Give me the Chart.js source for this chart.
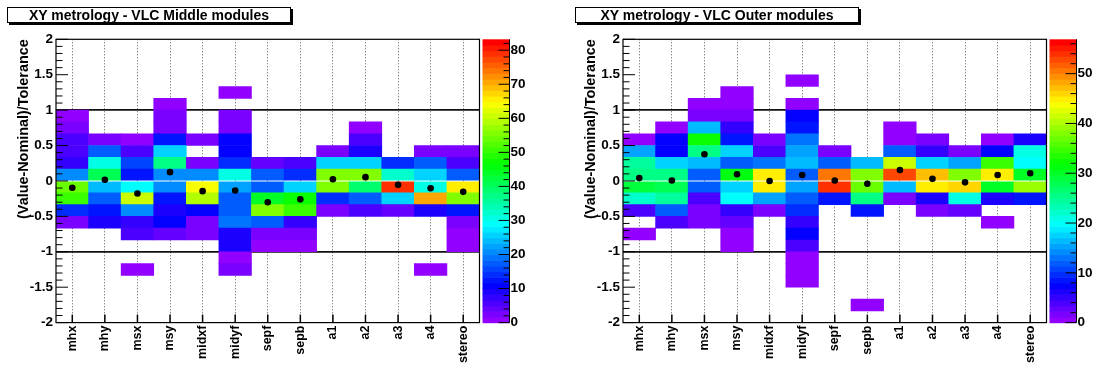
<!DOCTYPE html>
<html><head><meta charset="utf-8">
<script src="https://cdn.jsdelivr.net/npm/chart.js@4.4.0/dist/chart.umd.min.js"></script>
<style>
html,body{margin:0;padding:0;background:#fff;width:1096px;height:366px;overflow:hidden;position:relative;}
canvas{position:absolute;top:0;}
.tbox{position:absolute;top:7px;height:16px;width:284px;box-sizing:border-box;border:1px solid #000;box-shadow:2px 2px 0 #000;background:#fff;font:bold 14px "Liberation Sans",Arial,sans-serif;text-align:center;line-height:14px;color:#000;}
</style></head><body>
<canvas id="c1" width="567" height="366" style="left:0px"></canvas>
<canvas id="c2" width="529" height="366" style="left:567px"></canvas>
<div class="tbox" style="left:7px">XY metrology - VLC Middle modules</div>
<div class="tbox" style="left:575px">XY metrology - VLC Outer modules</div>
<script>
// ---------------- DATA ----------------
const categories = ['mhx','mhy','msx','msy','midxf','midyf','sepf','sepb','a1','a2','a3','a4','stereo'];
// y bins: 24 bins of width 1/6 from -2 to 2; each count array lists bins bottom (-2) to top (+2)
const yMin = -2, yMax = 2, yBins = 24;

// Middle modules: entries per bin
const mid_mhx    = [0,0,0,0,0,0,0,0, 2,14,50,54, 20,7,6,6, 2,1,0,0, 0,0,0,0];
const mid_mhy    = [0,0,0,0,0,0,0,0, 9,13,18,24, 41,31,18,3, 0,0,0,0, 0,0,0,0];
const mid_msx    = [0,0,0,0,1,0,0,6, 7,21,61,29, 13,16,6,1, 0,0,0,0, 0,0,0,0];
const mid_msy    = [0,0,0,0,0,0,0,4, 11,9,12,20, 20,37,26,13, 3,3,1,0, 0,0,0,0];
const mid_midxf  = [0,0,0,0,0,0,0,2, 2,11,59,64, 20,3,0,2, 0,0,0,0, 0,0,0,0];
const mid_midyf  = [0,0,0,0,3,1,9,9, 19,18,17,23, 31,14,11,11, 3,3,0,1, 0,0,0,0];
const mid_sepf   = [0,0,0,0,0,0,1,3, 18,56,44,17, 17,4,0,0, 0,0,0,0, 0,0,0,0];
const mid_sepb   = [0,0,0,0,0,0,1,2, 7,50,47,26, 14,6,0,0, 0,0,0,0, 0,0,0,0];
const mid_a1     = [0,0,0,0,0,0,0,0, 0,3,14,56, 56,26,2,0, 0,0,0,0, 0,0,0,0];
const mid_a2     = [0,0,0,0,0,0,0,0, 0,5,18,39, 56,25,9,6, 1,0,0,0, 0,0,0,0];
const mid_a3     = [0,0,0,0,0,0,0,0, 0,4,26,79, 32,14,0,0, 0,0,0,0, 0,0,0,0];
const mid_a4     = [0,0,0,0,1,0,0,0, 0,9,70,31, 26,17,2,0, 0,0,0,0, 0,0,0,0];
const mid_stereo = [0,0,0,0,0,0,1,1, 3,13,56,66, 17,5,3,0, 0,0,0,0, 0,0,0,0];
const midMeans = [-0.097, 0.016, -0.177, 0.124, -0.144, -0.135, -0.30, -0.26, 0.025, 0.054, -0.055, -0.104, -0.154];
const midZMax = 83.2;

// Outer modules: entries per bin
const out_mhx    = [0,0,0,0,0,0,0,1, 0,4,22,29, 26,24,15,1, 0,0,0,0, 0,0,0,0];
const out_mhy    = [0,0,0,0,0,0,0,0, 4,12,24,28, 26,18,7,7, 1,0,0,0, 0,0,0,0];
const out_msx    = [0,0,0,0,0,0,0,0, 2,2,4,12, 12,16,26,32, 16,2,1,0, 0,0,0,0];
const out_msy    = [0,0,0,0,0,0,1,1, 3,5,20,18, 31,12,18,8, 5,2,1,1, 0,0,0,0];
const out_midxf  = [0,0,0,0,0,0,0,0, 0,2,15,45, 45,13,4,2, 0,0,0,0, 0,0,0,0];
const out_midyf  = [0,0,0,1,1,1,4,7, 5,10,12,15, 12,16,15,13, 8,7,1,0, 1,0,0,0];
const out_sepf   = [0,0,0,0,0,0,0,0, 0,0,9,54, 51,12,2,0, 0,0,0,0, 0,0,0,0];
const out_sepb   = [0,1,0,0,0,0,0,0, 0,8,26,37, 38,16,0,0, 0,0,0,0, 0,0,0,0];
const out_a1     = [0,0,0,0,0,0,0,0, 0,0,2,16, 53,42,12,1, 1,0,0,0, 0,0,0,0];
const out_a2     = [0,0,0,0,0,0,0,0, 0,2,6,45, 47,18,5,2, 0,0,0,0, 0,0,0,0];
const out_a3     = [0,0,0,0,0,0,0,0, 0,3,21,46, 38,15,2,0, 0,0,0,0, 0,0,0,0];
const out_a4     = [0,0,0,0,0,0,0,0, 1,0,6,30, 45,35,7,1, 0,0,0,0, 0,0,0,0];
const out_stereo = [0,0,0,0,0,0,0,0, 0,0,9,39, 30,20,21,6, 0,0,0,0, 0,0,0,0];
const outMeans = [0.04, 0.007, 0.378, 0.095, 0.0, 0.084, 0.007, -0.04, 0.155, 0.03, -0.02, 0.085, 0.108];
const outZMax = 56.9;

const midCounts = [mid_mhx, mid_mhy, mid_msx, mid_msy, mid_midxf, mid_midyf, mid_sepf, mid_sepb, mid_a1, mid_a2, mid_a3, mid_a4, mid_stereo];
const outCounts = [out_mhx, out_mhy, out_msx, out_msy, out_midxf, out_midyf, out_sepf, out_sepb, out_a1, out_a2, out_a3, out_a4, out_stereo];

// ---------------- STYLE ----------------
const FONT = '"Liberation Sans", Arial, Helvetica, sans-serif';
Chart.defaults.font.family = FONT;
Chart.defaults.color = '#000';
const NPAL = 50;
function palColor(i){ const h = 280 - (i + 1) * (280 / NPAL); return 'hsl(' + h + ',100%,50%)'; }
function cellColor(v, zmax){ let i = Math.floor(v / zmax * NPAL + 0.01); if (i > NPAL - 1) i = NPAL - 1; if (i < 0) i = 0; return palColor(i); }

const rootDecor = {
  id: 'rootDecor',
  afterDraw(chart) {
    const {ctx, chartArea: a, scales: {x, y, z}} = chart;
    ctx.save();
    ctx.strokeStyle = '#000';
    const line = (x1, y1, x2, y2) => { ctx.beginPath(); ctx.moveTo(x1, y1); ctx.lineTo(x2, y2); ctx.stroke(); };
    // y ticks (inside)
    ctx.lineWidth = 1;
    for (let t = -20; t <= 20; t++) {
      const py = y.getPixelForValue(t / 10);
      line(a.left, py, a.left + (t % 5 === 0 ? 12 : 6.5), py);
    }
    // x ticks at bottom
    ctx.lineWidth = 1.5;
    categories.forEach((c, i) => { const px = x.getPixelForValue(i); line(px, a.bottom, px, a.bottom - 8); });
    // frame
    ctx.lineWidth = 1.2;
    ctx.strokeRect(a.left, a.top, a.right - a.left, a.bottom - a.top);
    // colour bar
    const x0 = a.right + 3, x1 = a.right + 30, zmax = z.max;
    for (let j = 0; j < NPAL; j++) {
      const yb = z.getPixelForValue(j * zmax / NPAL), yt = z.getPixelForValue((j + 1) * zmax / NPAL);
      ctx.fillStyle = palColor(j);
      ctx.fillRect(x0, yt, x1 - x0, yb - yt + 0.6);
    }
    ctx.lineWidth = 1;
    line(x1, z.getPixelForValue(0), x1, z.getPixelForValue(zmax));
    for (let v = 0; v <= zmax; v += 2) {
      const py = z.getPixelForValue(v);
      line(x1 - (v % 10 === 0 ? 11 : 6), py, x1, py);
    }
    ctx.restore();
  }
};

function makeChart(id, counts, means, zmax, canvasW) {
  const datasets = [];
  for (let j = 0; j < yBins; j++) {
    const lo = yMin + j * (yMax - yMin) / yBins, hi = yMin + (j + 1) * (yMax - yMin) / yBins;
    datasets.push({
      type: 'bar',
      data: counts.map(col => col[j] > 0 ? [lo, hi] : null),
      backgroundColor: counts.map(col => col[j] > 0 ? cellColor(col[j], zmax) : 'rgba(0,0,0,0)'),
      grouped: false, categoryPercentage: 1, barPercentage: 1, borderWidth: 0,
      order: 2, xAxisID: 'x', yAxisID: 'y'
    });
  }
  datasets.push({
    type: 'line', data: means, showLine: false,
    pointRadius: 3.3, pointHoverRadius: 3.3, pointBackgroundColor: '#000', pointBorderColor: '#000', pointBorderWidth: 0,
    order: 0, xAxisID: 'x', yAxisID: 'y'
  });
  const plotLeft = 56, plotW = 423.5;
  return new Chart(document.getElementById(id), {
    type: 'bar',
    data: { labels: categories, datasets },
    plugins: [rootDecor],
    options: {
      responsive: false, animation: false, devicePixelRatio: 1,
      layout: { padding: { top: 39.3, left: 0, right: 0, bottom: 0 } },
      plugins: { legend: { display: false }, tooltip: { enabled: false }, title: { display: false } },
      scales: {
        x: {
          type: 'category', offset: true, z: 1,
          grid: { offset: false, color: '#555', lineWidth: 1, drawTicks: false },
          border: { display: false, dash: [1, 2] },
          ticks: { autoSkip: false, minRotation: 90, maxRotation: 90, padding: 3, color: '#000', font: { size: 12.5, weight: 'bold' } },
          afterFit: s => { s.height = 43.4; }
        },
        y: {
          type: 'linear', position: 'left', min: yMin, max: yMax, z: 1,
          ticks: { stepSize: 0.5, padding: 3, color: '#000', font: { size: 13.5, weight: 'bold' }, callback: v => String(Math.round(v * 10) / 10) },
          grid: { color: c => (c.tick && Math.abs(Math.abs(c.tick.value) - 1) < 1e-6) ? '#111' : 'rgba(0,0,0,0)', lineWidth: 1.7, drawTicks: false },
          border: { display: false },
          title: { display: true, text: '(Value-Nominal)/Tolerance', align: 'end', color: '#000', font: { size: 14.4, weight: 'bold' }, padding: { top: 15, bottom: 0 } },
          afterFit: s => { s.width = plotLeft; }
        },
        z: {
          type: 'linear', position: 'right', min: 0, max: zmax,
          ticks: { stepSize: 10, includeBounds: false, padding: 31, color: '#000', font: { size: 13.5, weight: 'bold' } },
          grid: { display: false, drawTicks: false },
          border: { display: false },
          afterFit: s => { s.width = canvasW - plotLeft - plotW; }
        }
      }
    }
  });
}

makeChart('c1', midCounts, midMeans, midZMax, 567);
makeChart('c2', outCounts, outMeans, outZMax, 529);
</script>
</body></html>
